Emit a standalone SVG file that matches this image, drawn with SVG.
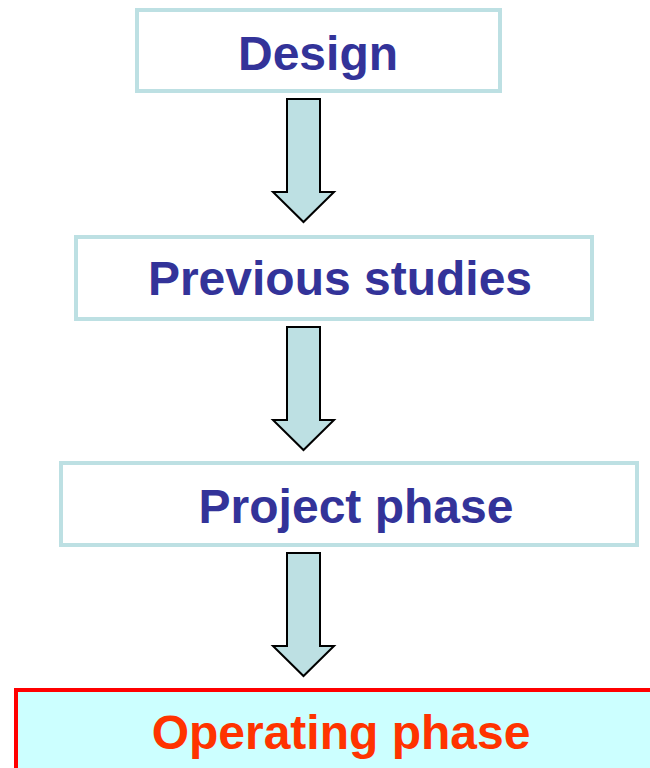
<svg xmlns="http://www.w3.org/2000/svg" width="650" height="768" viewBox="0 0 650 768">
  <style>
    .box { fill: #ffffff; stroke: #bde0e3; stroke-width: 4; }
    .final { fill: #ccffff; stroke: #ff0000; stroke-width: 4; }
    .label { font-family: "Liberation Sans", Arial, sans-serif; font-weight: bold; font-size: 48px; text-anchor: middle; fill: #333399; }
    .label-final { fill: #ff3300; }
    .arrow { fill: #bde0e3; stroke: #000000; stroke-width: 2; stroke-linejoin: miter; }
  </style>
  <defs>
    <!-- block arrow pointing down, origin at top-left of the shaft -->
    <path id="down-arrow" d="M0,0 H33 V93 H47 L16.5,123 L-14,93 H0 Z"/>
  </defs>
  <rect width="650" height="768" fill="#ffffff"/>

  <g id="design">
    <rect class="box" x="137" y="10" width="363" height="81"/>
    <text class="label" x="318" y="70">Design</text>
  </g>

  <g id="previous-studies">
    <rect class="box" x="76" y="237" width="516" height="82"/>
    <text class="label" x="340" y="295">Previous studies</text>
  </g>

  <g id="project-phase">
    <rect class="box" x="61" y="463" width="576" height="82"/>
    <text class="label" x="356" y="523">Project phase</text>
  </g>

  <g id="operating-phase">
    <rect class="final" x="16" y="690" width="660" height="100"/>
    <text class="label label-final" x="341" y="749">Operating phase</text>
  </g>

  <g id="connectors">
    <use href="#down-arrow" class="arrow" x="287" y="99"/>
    <use href="#down-arrow" class="arrow" x="287" y="327"/>
    <use href="#down-arrow" class="arrow" x="287" y="553"/>
  </g>
</svg>
